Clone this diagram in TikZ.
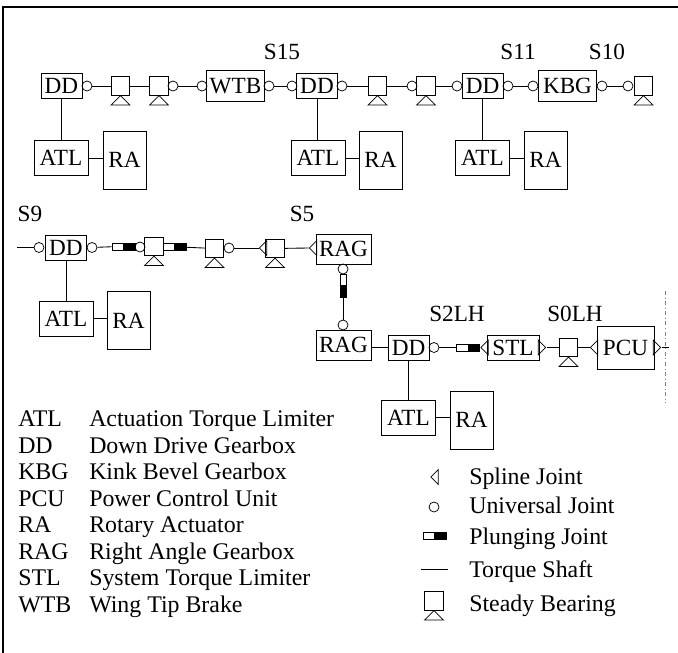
\documentclass[tikz,border=0pt]{standalone}
\usepackage{fontspec}
\setmainfont{Liberation Serif}
\usetikzlibrary{shapes.geometric}
\tikzset{
  base/.style   = {rectangle, draw, line width=0.6pt, inner sep=0pt, font=\fontsize{17.4}{20}\selectfont},
  blockDD/.style  = {base, minimum width=30.75pt, minimum height=18.75pt},
  blockATL/.style = {base, minimum width=40.5pt,  minimum height=26.25pt},
  blockRA/.style  = {base, minimum width=32.25pt, minimum height=43.5pt},
  blockWTB/.style = {base, minimum width=43.5pt,  minimum height=23.25pt},
  blockRAG/.style = {base, minimum width=41.25pt, minimum height=22.5pt},
  blockSTL/.style = {base, minimum width=39pt,    minimum height=18.75pt},
  blockPCU/.style = {base, minimum width=42.75pt, minimum height=32.25pt},
  ujoint/.style  = {circle, draw, line width=0.55pt, inner sep=0pt, minimum size=7.5pt},
  bearing/.style = {rectangle, draw, line width=0.6pt, inner sep=0pt, minimum size=13.8pt},
  spline/.style  = {isosceles triangle, isosceles triangle stretches, draw, line width=0.55pt, inner sep=0pt,
                    minimum height=5.5pt, minimum width=11.25pt},
  plungeW/.style = {rectangle, draw, line width=0.5pt, fill=white, inner sep=0pt, minimum width=8.6pt, minimum height=5pt},
  plungeB/.style = {plungeW, fill=black},
  shaft/.style   = {line width=0.65pt},
  label/.style   = {font=\fontsize{17.4}{20}\selectfont},
  legend/.style  = {font=\fontsize{17.9}{20}\selectfont, anchor=base west, inner sep=0pt},
}
\begin{document}
\begin{tikzpicture}[x=0.75pt,y=-0.75pt]
    \useasboundingbox (0,0) rectangle (678,653);

    %% Frame
    \coordinate (fa) at (3,653);
    \coordinate (fb) at (3,7);
    \coordinate (fc) at (678,7);
    \draw[line width=1.1pt] (fa) -- (fb) -- (fc);

    %% Top row
    \node[blockDD]  (dd1)  at ( 61.5, 86) {DD};
    \node[ujoint]   (u1)   at ( 87,   86) {};
    \node[bearing]  (b1)   at (120.5, 86) {};
    \node[bearing]  (b2)   at (159,   86) {};
    \node[ujoint]   (u2)   at (173,   86) {};
    \node[ujoint]   (u3)   at (202,   86) {};
    \node[blockWTB] (wtb)  at (235.5, 86) {WTB};
    \node[ujoint]   (u4)   at (269,   86) {};
    \node[ujoint]   (u5)   at (292,   86) {};
    \node[blockDD]  (dd2)  at (317,   86) {DD};
    \node[ujoint]   (u6)   at (342,   86) {};
    \node[bearing]  (b3)   at (377.5, 86) {};
    \node[ujoint]   (u7)   at (412,   86) {};
    \node[bearing]  (b4)   at (426,   86) {};
    \node[ujoint]   (u8)   at (457,   86) {};
    \node[blockDD]  (dd3)  at (482.5, 86) {DD};
    \node[ujoint]   (u9)   at (508,   86) {};
    \node[ujoint]   (u10)  at (533,   86) {};
    \node[blockWTB] (kbg)  at (567.5, 86) {KBG};
    \node[ujoint]   (u11)  at (602,   86) {};
    \node[ujoint]   (u12)  at (628,   86) {};
    \node[bearing]  (b5)   at (643.5, 86) {};

    \draw[shaft] (u1) -- (b1);
    \draw[shaft] (b1) -- (b2);
    \draw[shaft] (u2) -- (u3);
    \draw[shaft] (u4) -- (u5);
    \draw[shaft] (u6) -- (b3);
    \draw[shaft] (b3) -- (u7);
    \draw[shaft] (b4) -- (u8);
    \draw[shaft] (u9) -- (u10);
    \draw[shaft] (u11) -- (u12);

    \node[blockATL] (atl1) at ( 61,   158) {ATL};
    \node[blockRA]  (ra1)  at (124.5, 160) {RA};
    \node[blockATL] (atl2) at (318,   158) {ATL};
    \node[blockRA]  (ra2)  at (380.5, 160) {RA};
    \node[blockATL] (atl3) at (482.5, 158) {ATL};
    \node[blockRA]  (ra3)  at (545.5, 160) {RA};

    \draw[shaft] (dd1.south) -- (dd1.south |- atl1.north);
    \draw[shaft] (dd2.south) -- (dd2.south |- atl2.north);
    \draw[shaft] (dd3.south) -- (dd3.south |- atl3.north);
    \foreach \i in {1,2,3}
      \draw[shaft] (atl\i.east) -- (ra\i.west |- atl\i.east);

    %% Second row
    \coordinate (in9) at (17,247.5);
    \node[ujoint]   (u13)  at ( 39,   247.5) {};
    \node[blockDD]  (dd4)  at ( 66,   247.5) {DD};
    \node[ujoint]   (u14)  at ( 92,   247.5) {};
    \node[plungeW]  (p1w)  at (117.7, 246.5) {};
    \node[plungeB]  (p1b)  at (129.2, 246.5) {};
    \node[ujoint]   (u15)  at (140,   247) {};
    \node[bearing]  (b6)   at (154,   246.5) {};
    \node[plungeW]  (p2w)  at (169,   247) {};
    \node[plungeB]  (p2b)  at (180.5, 247) {};
    \node[bearing]  (b7)   at (214.5, 248.5) {};
    \node[ujoint]   (u16)  at (229,   248) {};
    \node[spline, shape border rotate=180, anchor=apex] (s1) at (258.5,248) {};
    \node[bearing]  (b8)   at (275,   248.5) {};
    \node[spline, shape border rotate=180, anchor=apex] (s2) at (308.5,248) {};
    \node[blockRAG] (rag1) at (343.5, 249) {RAG};

    \draw[shaft] (in9) -- (u13);
    \draw[shaft] (u14) -- (p1w);
    \draw[shaft] (p2b) -- (b7);
    \draw[shaft] (u16) -- (s1.apex);
    \draw[shaft] (b8) -- (s2.apex);

    \node[blockATL] (atl4) at ( 66,   318.5) {ATL};
    \node[blockRA]  (ra4)  at (128.5, 320.5) {RA};
    \draw[shaft] (dd4.south) -- (dd4.south |- atl4.north);
    \draw[shaft] (atl4.east) -- (ra4.west |- atl4.east);

    %% Vertical link
    \node[ujoint] (u17) at (343,269) {};
    \node[plungeW, minimum width=5pt, minimum height=8.6pt] (p3w) at (343.3,280) {};
    \node[plungeB, minimum width=5pt, minimum height=8.6pt] (p3b) at (343.3,291.5) {};
    \node[ujoint] (u18) at (343,325) {};
    \draw[shaft] (p3b.south) -- (p3b.south |- u18.north);

    %% Third row
    \node[blockRAG] (rag2) at (343.5, 345) {RAG};
    \node[blockDD]  (dd5)  at (408.5, 347.5) {DD};
    \node[ujoint]   (u19)  at (434,   347.5) {};
    \node[plungeW]  (p4w)  at (462.5, 347.5) {};
    \node[plungeB]  (p4b)  at (474,   347.5) {};
    \node[spline, shape border rotate=180, anchor=apex] (s3) at (480,347.5) {};
    \node[blockSTL] (stl)  at (513,   347.5) {STL};
    \node[spline, anchor=apex] (s4) at (546.5,347.5) {};
    \node[bearing]  (b9)   at (568.5, 347.5) {};
    \node[spline, shape border rotate=180, anchor=apex] (s5) at (589.5,347.5) {};
    \node[blockPCU] (pcu)  at (625.5, 347.5) {PCU};
    \node[spline, anchor=apex] (s6) at (661.5,347.5) {};
    \coordinate (out) at (669,347.5);
    \coordinate (ca) at (665,291);
    \coordinate (cb) at (665,403);

    \draw[shaft] (rag2.east |- dd5.west) -- (dd5.west);
    \draw[shaft] (u19) -- (p4w);
    \draw[shaft] (s4.apex) -- (b9);
    \draw[shaft] (b9) -- (s5.apex);
    \draw[shaft] (s6.apex) -- (out);
    \draw[line width=0.6pt, gray, dash dot] (ca) -- (cb);

    \node[blockATL] (atl5) at (408.5, 417.5) {ATL};
    \node[blockRA]  (ra5)  at (471.5, 420) {RA};
    \draw[shaft] (dd5.south) -- (dd5.south |- atl5.north);
    \draw[shaft] (atl5.east) -- (ra5.west |- atl5.east);

    %% Station labels
    \node[label] (s15)  at (282,52)  {S15};
    \node[label] (s11)  at (518,52)  {S11};
    \node[label] (s10)  at (607,52)  {S10};
    \node[label] (s9)   at (30,214)  {S9};
    \node[label] (s5l)  at (302,214) {S5};
    \node[label] (s2lh) at (457,314) {S2LH};
    \node[label] (s0lh) at (575,314) {S0LH};

    %% Legend: abbreviations
    \foreach \y/\a/\t in {426.5/ATL/Actuation Torque Limiter, 453/DD/Down Drive Gearbox,
                          479.5/KBG/Kink Bevel Gearbox, 506/PCU/Power Control Unit,
                          532.5/RA/Rotary Actuator, 559/RAG/Right Angle Gearbox,
                          585.5/STL/System Torque Limiter, 612/WTB/Wing Tip Brake} {
      \node[legend] (a\a) at (18,\y) {\a};
      \node[legend] (t\a) at (89,\y) {\t};
    }

    %% Legend: symbols
    \node[spline, shape border rotate=180, anchor=apex] (ks) at (430,477) {};
    \node[legend] (ts) at (469,484) {Spline Joint};
    \node[ujoint] (ku) at (434,507) {};
    \node[legend] (tu) at (469,513) {Universal Joint};
    \node[plungeW] (kpw) at (428.7,535.5) {};
    \node[plungeB] (kpb) at (440.2,535.5) {};
    \node[legend] (tp) at (469,544) {Plunging Joint};
    \coordinate (kl) at (421,569);
    \coordinate (kr) at (448,569);
    \draw[shaft] (kl) -- (kr);
    \node[legend] (tt) at (469,577) {Torque Shaft};
    \node[bearing] (b10) at (434,601) {};
    \node[legend] (tb) at (469,611) {Steady Bearing};

    \foreach \n in {b1,b2,b3,b4,b5,b6,b7,b8,b9,b10}
      \draw[line width=0.55pt] (\n.south) -- ++(-9.5,9.5) -- ++(19,0) -- cycle;

  \end{tikzpicture}
\end{document}
